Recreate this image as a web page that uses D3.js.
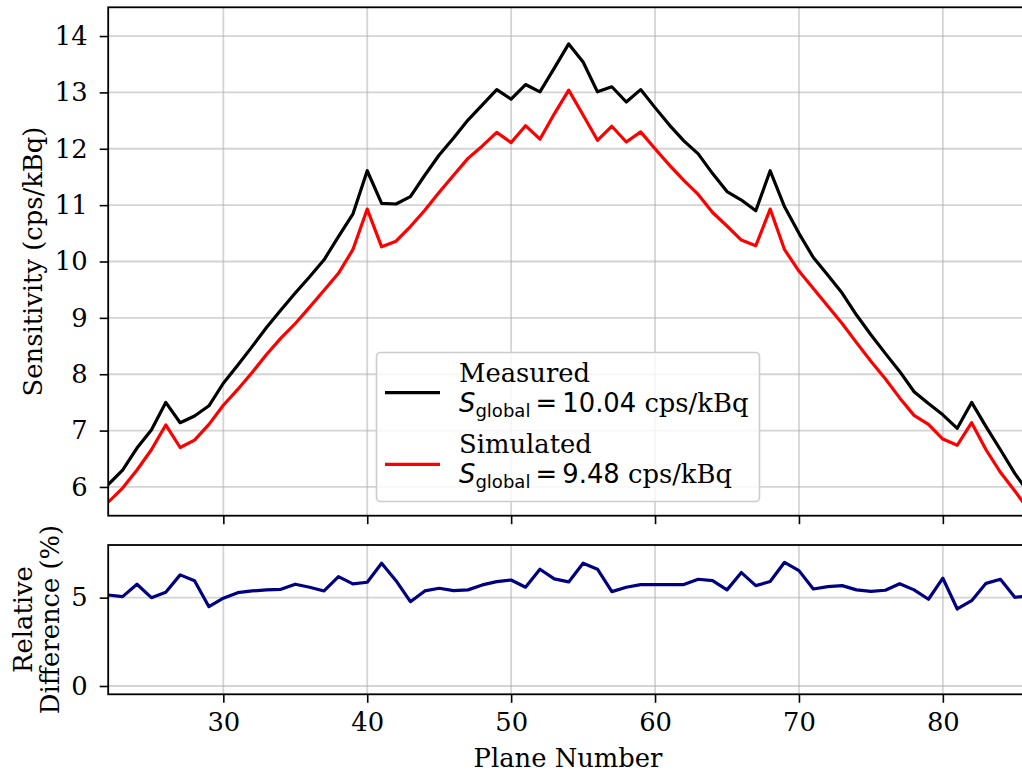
<!DOCTYPE html>
<html><head><meta charset="utf-8">
<script src="https://cdn.jsdelivr.net/npm/d3@7"></script>
<style>
html,body{margin:0;padding:0;background:#fff;}
svg{display:block;}
</style>
</head><body>
<svg id="chart" width="1022" height="772"></svg>
<script>
const planes = [22,23,24,25,26,27,28,29,30,31,32,33,34,35,36,37,38,39,40,41,42,43,44,45,46,47,48,49,50,51,52,53,54,55,56,57,58,59,60,61,62,63,64,65,66,67,68,69,70,71,72,73,74,75,76,77,78,79,80,81,82,83,84,85,86];
const measured = [6.04,6.30,6.69,7.01,7.50,7.14,7.26,7.44,7.84,8.16,8.49,8.83,9.14,9.44,9.73,10.03,10.44,10.84,11.61,11.03,11.02,11.15,11.53,11.89,12.19,12.51,12.78,13.05,12.88,13.14,13.01,13.43,13.86,13.54,13.01,13.10,12.83,13.05,12.73,12.42,12.14,11.91,11.56,11.24,11.09,10.90,11.61,10.97,10.50,10.07,9.76,9.44,9.05,8.70,8.37,8.05,7.69,7.48,7.28,7.04,7.50,7.07,6.66,6.24,5.88];
const simulated = [5.73,5.98,6.30,6.66,7.10,6.70,6.83,7.11,7.45,7.73,8.03,8.35,8.64,8.90,9.19,9.49,9.79,10.21,10.93,10.26,10.36,10.62,10.91,11.23,11.53,11.83,12.05,12.29,12.11,12.41,12.17,12.62,13.04,12.60,12.15,12.40,12.12,12.30,12.00,11.71,11.44,11.19,10.87,10.63,10.38,10.28,10.93,10.21,9.83,9.52,9.21,8.90,8.56,8.23,7.92,7.58,7.27,7.11,6.85,6.74,7.14,6.66,6.26,5.93,5.58];
const relDiff = [5.15,5.06,5.76,5.00,5.30,6.29,5.96,4.49,4.97,5.28,5.38,5.44,5.47,5.76,5.59,5.38,6.19,5.78,5.87,6.95,5.96,4.77,5.38,5.53,5.40,5.44,5.72,5.91,6.00,5.59,6.61,6.06,5.89,6.95,6.61,5.34,5.59,5.74,5.74,5.74,5.74,6.04,5.96,5.44,6.42,5.68,5.91,7.00,6.53,5.49,5.62,5.68,5.44,5.36,5.42,5.79,5.44,4.91,6.10,4.36,4.83,5.81,6.04,5.02,5.10];
const xTicks = [30,40,50,60,70,80];
const yTicksTop = [6,7,8,9,10,11,12,13,14];
const yTicksBottom = [0,5];
const seriesNames = ["Measured","Simulated"];
const sGlobal = ["10.04","9.48"];
const seriesColors = ["#000000","#ff0000"];

const svg = d3.select("#chart");
const SERIF = "'DejaVu Serif', serif";
const SANS = "'DejaVu Sans', sans-serif";
const FS = 25.8;

const x = d3.scaleLinear().domain([22, 86]).range([108.2, 1029.2]);
const yTop = d3.scaleLinear().domain([5.49, 14.51]).range([515.7, 7.3]);
const yBot = d3.scaleLinear().domain([-0.47, 7.98]).range([694.3, 545]);

const defs = svg.append("defs");
function clip(id, y0, y1) {
  defs.append("clipPath").attr("id", id).append("rect")
    .attr("x", x.range()[0]).attr("y", y0)
    .attr("width", x.range()[1] - x.range()[0]).attr("height", y1 - y0);
}
clip("clipTop", 7.3, 515.7);
clip("clipBot", 545, 694.3);

function panel(y, ticksY, showXLabels, clipId) {
  const [yb, yt] = y.range();
  const g = svg.append("g");
  const grid = g.append("g").attr("clip-path", `url(#${clipId})`);
  grid.selectAll(".gx").data(xTicks).join("line")
    .attr("x1", d => x(d)).attr("x2", d => x(d)).attr("y1", yt).attr("y2", yb)
    .attr("stroke", "#b0b0b0").attr("stroke-opacity", 0.55).attr("stroke-width", 1.8);
  grid.selectAll(".gy").data(ticksY).join("line")
    .attr("x1", x.range()[0]).attr("x2", x.range()[1]).attr("y1", d => y(d)).attr("y2", d => y(d))
    .attr("stroke", "#b0b0b0").attr("stroke-opacity", 0.55).attr("stroke-width", 1.8);
  const ax = g.append("g").attr("transform", `translate(0,${yb})`)
    .call(d3.axisBottom(x).tickValues(xTicks).tickSize(8.5).tickPadding(10)
      .tickFormat(showXLabels ? d3.format("d") : () => ""));
  const ay = g.append("g").attr("transform", `translate(${x.range()[0]},0)`)
    .call(d3.axisLeft(y).tickValues(ticksY).tickSize(8.5).tickPadding(12).tickFormat(d3.format("d")));
  [ax, ay].forEach(a => {
    a.select(".domain").remove();
    a.selectAll(".tick line").attr("stroke", "#000").attr("stroke-width", 1.6);
    a.selectAll(".tick text").attr("font-family", SERIF).attr("font-size", FS).attr("fill", "#000");
  });
  return g;
}

function frame(y) {
  const [yb, yt] = y.range();
  svg.append("rect").attr("x", x.range()[0]).attr("y", yt)
    .attr("width", x.range()[1] - x.range()[0]).attr("height", yb - yt)
    .attr("fill", "none").attr("stroke", "#000").attr("stroke-width", 1.8);
}

// Top panel
panel(yTop, yTicksTop, false, "clipTop");
const lineTop = d3.line().x((d, i) => x(planes[i])).y(d => yTop(d));
const gl = svg.append("g").attr("clip-path", "url(#clipTop)");
[measured, simulated].forEach((s, k) => {
  gl.append("path").datum(s).attr("d", lineTop).attr("fill", "none")
    .attr("stroke", seriesColors[k]).attr("stroke-width", 3.2).attr("stroke-linejoin", "round");
});
frame(yTop);

// Bottom panel
panel(yBot, yTicksBottom, true, "clipBot");
const lineBot = d3.line().x((d, i) => x(planes[i])).y(d => yBot(d));
svg.append("g").attr("clip-path", "url(#clipBot)").append("path").datum(relDiff)
  .attr("d", lineBot).attr("fill", "none").attr("stroke", "#000080")
  .attr("stroke-width", 3.2).attr("stroke-linejoin", "round");
frame(yBot);

// Axis labels
svg.append("text").attr("x", 568).attr("y", 767).attr("text-anchor", "middle")
  .attr("font-family", SERIF).attr("font-size", FS).text("Plane Number");
svg.append("text").attr("transform", "translate(41.5,261.5) rotate(-90)")
  .attr("text-anchor", "middle").attr("font-family", SERIF).attr("font-size", FS)
  .text("Sensitivity (cps/kBq)");
svg.append("text").attr("transform", "translate(32,619.5) rotate(-90)")
  .attr("text-anchor", "middle").attr("font-family", SERIF).attr("font-size", FS).text("Relative");
svg.append("text").attr("transform", "translate(58.5,619.5) rotate(-90)")
  .attr("text-anchor", "middle").attr("font-family", SERIF).attr("font-size", FS).text("Difference (%)");

// Legend
const lg = svg.append("g");
lg.append("rect").attr("x", 376.5).attr("y", 352.5).attr("width", 383).attr("height", 149)
  .attr("rx", 4).attr("fill", "#fff").attr("fill-opacity", 0.8)
  .attr("stroke", "#cccccc").attr("stroke-width", 1.6);
const rowY = [381.7, 453.3];
seriesNames.forEach((nm, k) => {
  const by = rowY[k];
  lg.append("line").attr("x1", 385).attr("x2", 440).attr("y1", by + 11).attr("y2", by + 11)
    .attr("stroke", seriesColors[k]).attr("stroke-width", 3.2);
  lg.append("text").attr("x", 459).attr("y", by).attr("font-family", SERIF)
    .attr("font-size", FS).text(nm);
  const t = lg.append("text").attr("x", 459).attr("y", by + 30).attr("font-size", FS);
  t.append("tspan").attr("font-family", SANS).attr("font-style", "italic").text("S");
  t.append("tspan").attr("font-family", SANS).attr("font-size", FS * 0.7).attr("dy", 5).text("global");
  t.append("tspan").attr("font-family", SANS).attr("dy", -5).text("\u2009=\u2009" + sGlobal[k]);
  t.append("tspan").attr("font-family", SERIF).text(" cps/kBq");
});
</script>
</body></html>
